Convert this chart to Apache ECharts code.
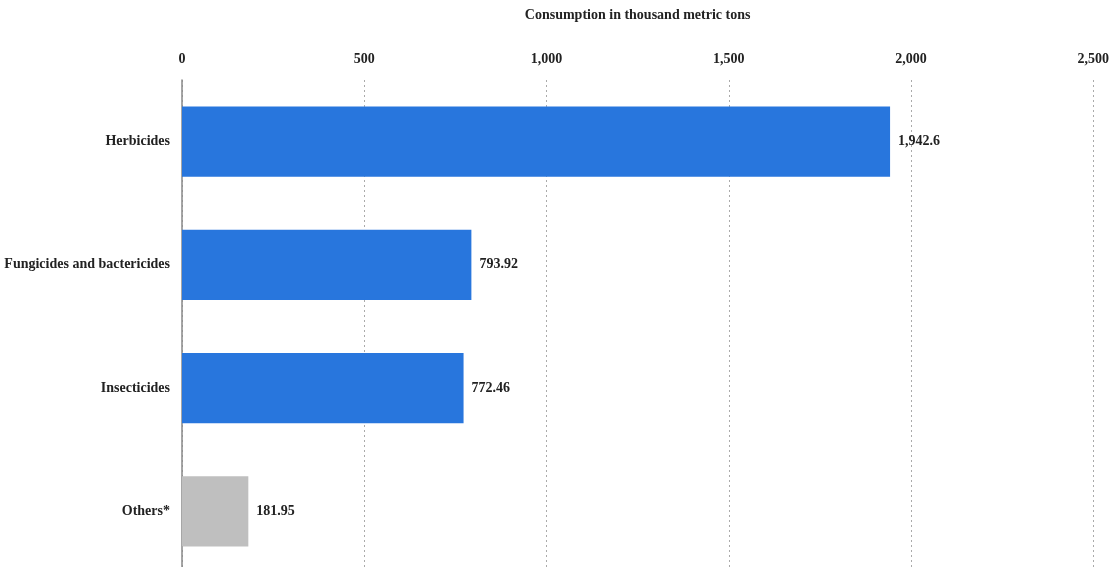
<!DOCTYPE html>
<html><head><meta charset="utf-8">
<script src="https://cdn.jsdelivr.net/npm/echarts@6/dist/echarts.min.js"></script>
<style>html,body{margin:0;padding:0;background:#fff;overflow:hidden}#c{width:1112px;height:573px}</style>
</head><body><div id="c"></div>
<script>
var categories = ["Herbicides", "Fungicides and bactericides", "Insecticides", "Others*"];
var values = [1942.6, 793.92, 772.46, 181.95];
var barColors = ["#2876dd", "#2876dd", "#2876dd", "#bfbfbf"];
var axisTitle = "Consumption in thousand metric tons";

var font = "'Liberation Serif', 'Times New Roman', serif";
var chart = echarts.init(document.getElementById('c'), null, {renderer: 'canvas'});
chart.setOption({
  animation: false,
  grid: {left: 182, right: 16, top: 80, bottom: 0, containLabel: false},
  xAxis: {
    type: 'value', position: 'top', min: 0, max: 2500, interval: 500,
    name: axisTitle, nameLocation: 'middle', nameGap: 58,
    nameTextStyle: {fontFamily: font, fontWeight: 'bold', fontSize: 14, color: '#222'},
    axisLine: {show: false}, axisTick: {show: false},
    axisLabel: {fontFamily: font, fontWeight: 'bold', fontSize: 14, color: '#222', margin: 14,
      formatter: function (v) { return v.toLocaleString('en-US'); }},
    splitLine: {show: true, lineStyle: {type: [2, 3], color: '#aaa', width: 1}}
  },
  yAxis: {
    type: 'category', inverse: true, data: categories,
    axisLine: {show: true, lineStyle: {color: '#888', width: 1.5}},
    axisTick: {show: false},
    axisLabel: {fontFamily: font, fontWeight: 'bold', fontSize: 14, color: '#222', margin: 12}
  },
  series: [{
    type: 'bar', barWidth: '57%',
    data: values.map(function (v, i) { return {value: v, itemStyle: {color: barColors[i]}}; }),
    label: {show: true, position: 'right', distance: 8, fontFamily: font, fontWeight: 'bold',
      fontSize: 14, color: '#222',
      formatter: function (p) { return p.value.toLocaleString('en-US', {maximumFractionDigits: 2}); }}
  }]
});
</script></body></html>
